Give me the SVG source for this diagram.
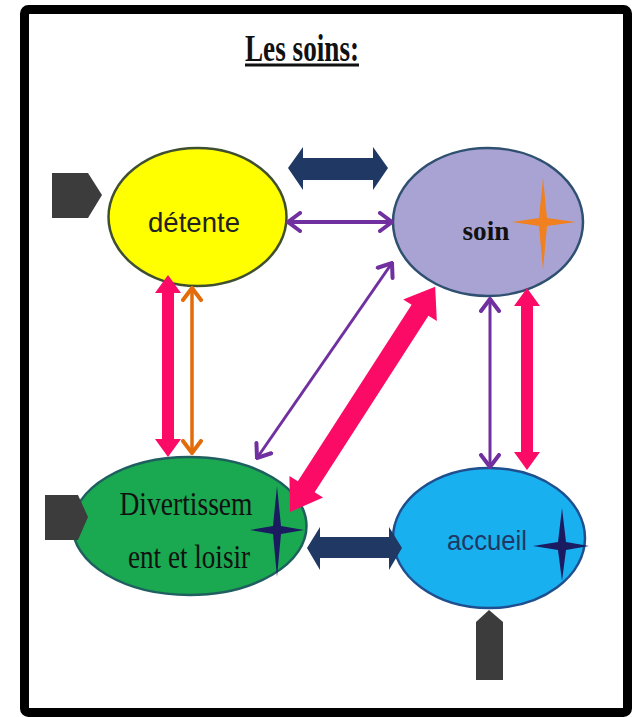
<svg xmlns="http://www.w3.org/2000/svg" width="639" height="717" viewBox="0 0 639 717">
<style>
.sans{font-family:"Liberation Sans","Open Sans",Arial,sans-serif}
.serif{font-family:"Liberation Serif","Times New Roman",serif}
.navy{fill:#1f3864}
.pink{fill:#fb0a66}
.gray{fill:#3c3c3c}
.thinp{stroke:#7030a0;fill:none}
.thino{stroke:#e36c0a;fill:none}
</style>
<defs>
<marker id="mp" viewBox="0 0 16 22" refX="14" refY="11" markerWidth="16" markerHeight="22" markerUnits="userSpaceOnUse" orient="auto-start-reverse">
<path d="M2,2 L14,11 L2,20" fill="none" stroke="#7030a0" stroke-width="4" stroke-linecap="round"/>
</marker>
<marker id="mo" viewBox="0 0 16 22" refX="14" refY="11" markerWidth="16" markerHeight="22" markerUnits="userSpaceOnUse" orient="auto-start-reverse">
<path d="M2,2 L14,11 L2,20" fill="none" stroke="#e36c0a" stroke-width="4" stroke-linecap="round"/>
</marker>
</defs>
<rect x="0" y="0" width="639" height="717" fill="#ffffff"/>
<rect id="frame" x="24.5" y="9.5" width="603" height="703" rx="4" fill="none" stroke="#000" stroke-width="9"/>
<g id="title">
<text x="302" y="61" text-anchor="middle" class="serif" font-weight="bold" font-size="38" textLength="114" lengthAdjust="spacingAndGlyphs" fill="#111">Les soins:</text>
<line x1="245" y1="65" x2="359" y2="65" stroke="#111" stroke-width="3"/>
</g>
<g id="node-detente">
<ellipse cx="197.5" cy="217" rx="89" ry="69" fill="#ffff00" stroke="#3f4f30" stroke-width="2.5"/>
<text x="194" y="232" text-anchor="middle" class="sans" font-size="28" textLength="92" lengthAdjust="spacingAndGlyphs" fill="#222">détente</text>
</g>
<g id="node-soin">
<ellipse cx="488" cy="222" rx="95" ry="74" fill="#a9a3d3" stroke="#2f5070" stroke-width="2.5"/>
<text x="486" y="240" text-anchor="middle" class="serif" font-weight="bold" font-size="28" textLength="47" lengthAdjust="spacingAndGlyphs" fill="#111">soin</text>
<path d="M543,178 L547,218 L576,222 L547,226 L543,270 L539,226 L512,222 L539,218 Z" fill="#f08020"/>
</g>
<g id="node-divertissement">
<ellipse cx="189.5" cy="526" rx="117" ry="69" fill="#1aa850" stroke="#1f5f60" stroke-width="2.5"/>
<text x="186" y="515" text-anchor="middle" class="serif" font-size="33" textLength="133" lengthAdjust="spacingAndGlyphs" fill="#111">Divertissem</text>
<text x="189" y="568" text-anchor="middle" class="serif" font-size="33" textLength="122" lengthAdjust="spacingAndGlyphs" fill="#111">ent et loisir</text>
<path d="M277,486 L281,526 L304,530 L281,534 L277,577 L273,534 L250,530 L273,526 Z" fill="#1b1b62"/>
</g>
<g id="node-accueil">
<ellipse cx="489" cy="538" rx="96" ry="70" fill="#19b0f0" stroke="#1f4f8f" stroke-width="2.5"/>
<text x="487" y="550" text-anchor="middle" class="sans" font-size="28" textLength="80" lengthAdjust="spacingAndGlyphs" fill="#1f3864">accueil</text>
<path d="M562,508 L566,542 L589,546 L566,550 L562,581 L558,550 L533,546 L558,542 Z" fill="#1b1b62"/>
</g>
<g id="connectors">
<polygon class="gray" points="52,173 88,173 102,195 88,218 52,218"/>
<polygon class="gray" points="45,495 78,495 88,517 78,540 45,540"/>
<polygon class="gray" points="476,680 476,622 489,610 503,622 503,680"/>
<polygon class="navy" points="288,168 303,147 303,158 373,158 373,147 388,168 373,190 373,180 303,180 303,190"/>
<polygon class="navy" points="307,548 320,527 320,537 389,537 389,527 402,548 389,570 389,558 320,558 320,570"/>
<polygon class="pink" points="168,275 181,293 174,293 174,439 181,439 168,457 155,439 162,439 162,293 155,293"/>
<polygon class="pink" points="527,288 540,306 533,306 533,452 540,452 527,470 514,452 521,452 521,306 514,306"/>
<polygon class="pink" transform="translate(290,512) rotate(-57.2)" points="0,0 30,-20 30,-10 240,-10 240,-20 268,0 240,20 240,10 30,10 30,20"/>
<line class="thinp" x1="288" y1="222" x2="392" y2="222" stroke-width="4" marker-start="url(#mp)" marker-end="url(#mp)"/>
<line class="thino" x1="192" y1="288" x2="192" y2="453" stroke-width="3.5" marker-start="url(#mo)" marker-end="url(#mo)"/>
<line class="thinp" x1="392" y1="263" x2="257" y2="458" stroke-width="3" marker-start="url(#mp)" marker-end="url(#mp)"/>
<line class="thinp" x1="490" y1="299" x2="490" y2="467" stroke-width="3" marker-start="url(#mp)" marker-end="url(#mp)"/>
</g>
</svg>
